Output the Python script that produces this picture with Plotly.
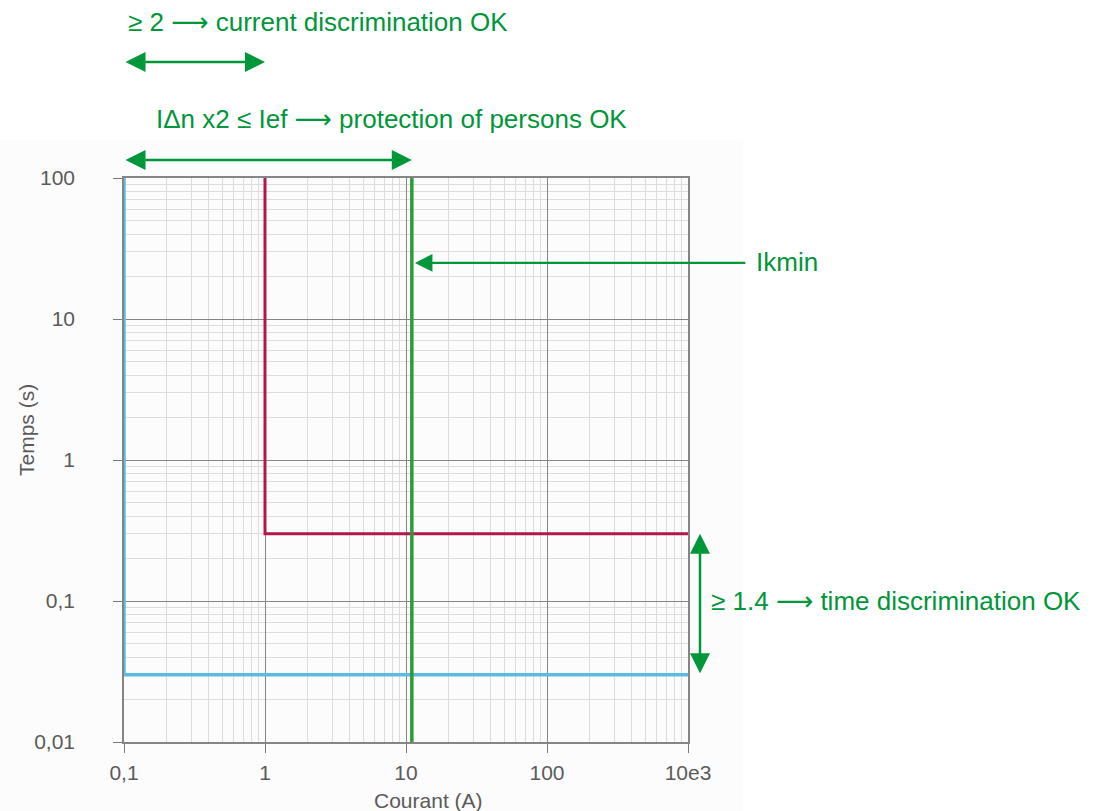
import math
import plotly.graph_objects as go

# Tripping curves (current in A, time in s)
upstream_x = [1, 1, 1000]          # upstream RCD, red
upstream_y = [100, 0.3, 0.3]
downstream_x = [0.1, 0.1, 1000]    # downstream RCD, blue
downstream_y = [100, 0.03, 0.03]
ikmin_x = [11, 11]                 # minimum fault current, green
ikmin_y = [0.01, 100]
ikmin_pointer_y = 25

x_tickvals = [0.1, 1, 10, 100, 1000]
x_ticktext = ["0,1", "1", "10", "100", "10e3"]
y_tickvals = [0.01, 0.1, 1, 10, 100]
y_ticktext = ["0,01", "0,1", "1", "10", "100"]

GREEN = "#00963a"
FAMILY = "Liberation Sans, Arial, sans-serif"
AXIS_FONT = dict(family=FAMILY, size=21, color="#5a5a5a")
NOTE_FONT = dict(family=FAMILY, size=26, color=GREEN)
ARROW = "<span style='font-family:DejaVu Sans'>⟶</span>"

fig = go.Figure()
fig.add_trace(go.Scatter(x=downstream_x, y=downstream_y, mode="lines", cliponaxis=False,
                         line=dict(color="#5bbbe4", width=3.5), showlegend=False))
fig.add_trace(go.Scatter(x=upstream_x, y=upstream_y, mode="lines", cliponaxis=False,
                         line=dict(color="#b3164c", width=3), showlegend=False))
fig.add_trace(go.Scatter(x=ikmin_x, y=ikmin_y, mode="lines", cliponaxis=False,
                         line=dict(color="#2f9a38", width=3.5), showlegend=False))

axis_common = dict(
    type="log", layer="below traces",
    showgrid=True, gridcolor="#858585", gridwidth=1,
    showline=True, mirror=True, linecolor="#858585", linewidth=1.5,
    ticks="outside", ticklen=9, tickcolor="#7a7a7a", tickwidth=1,
    tickfont=AXIS_FONT, zeroline=False,
    minor=dict(showgrid=True, gridcolor="#dcdcdc", gridwidth=1, dtick="D1", ticks=""),
)

fig.update_xaxes(range=[math.log10(0.1), math.log10(1000)],
                 tickvals=x_tickvals, ticktext=x_ticktext,
                 ticklabelstandoff=2, **axis_common)
fig.update_yaxes(range=[math.log10(0.01), math.log10(100)],
                 tickvals=y_tickvals, ticktext=y_ticktext,
                 ticklabelstandoff=34, **axis_common)

# Helpers for positions expressed in the plot's paper space
PL, PR, PT, PB = 124, 688, 178, 742
W, H = PR - PL, PB - PT


def px_x(px):
    return (px - PL) / W


def px_y(py):
    return (PB - py) / H


lx = math.log10
annotations = [
    # Axis titles
    dict(text="Courant (A)", xref="paper", yref="paper", x=px_x(428), y=px_y(800),
         xanchor="center", yanchor="middle", showarrow=False, font=AXIS_FONT),
    dict(text="Temps (s)", xref="paper", yref="paper", x=px_x(26), y=px_y(430),
         xanchor="center", yanchor="middle",
         textangle=-90, showarrow=False, font=AXIS_FONT),
    # Notes
    dict(text=f"≥ 2 {ARROW} current discrimination OK", xref="paper", yref="paper",
         x=px_x(126), y=px_y(22), xanchor="left", yanchor="middle",
         showarrow=False, font=NOTE_FONT),
    dict(text=f"IΔn x2 ≤ Ief {ARROW} protection of persons OK", xref="paper", yref="paper",
         x=px_x(154), y=px_y(119), xanchor="left", yanchor="middle",
         showarrow=False, font=NOTE_FONT),
    dict(text="Ikmin", xref="paper", yref="paper",
         x=px_x(754), y=px_y(262), xanchor="left", yanchor="middle",
         showarrow=False, font=NOTE_FONT),
    dict(text=f"≥ 1.4 {ARROW} time discrimination OK", xref="paper", yref="paper",
         x=px_x(709), y=px_y(601), xanchor="left", yanchor="middle",
         showarrow=False, font=NOTE_FONT),
    # Current ratio arrow between the two thresholds
    dict(xref="x", yref="paper", x=lx(upstream_x[0]), y=px_y(62),
         axref="x", ayref="pixel", ax=lx(downstream_x[0]), ay=0,
         text="", showarrow=True, arrowside="end+start",
         arrowhead=2, arrowsize=1.6, arrowwidth=2.5, arrowcolor=GREEN),
    # Downstream threshold to Ikmin
    dict(xref="x", yref="paper", x=lx(ikmin_x[0]), y=px_y(160),
         axref="x", ayref="pixel", ax=lx(downstream_x[0]), ay=0,
         text="", showarrow=True, arrowside="end+start",
         arrowhead=2, arrowsize=1.6, arrowwidth=2.5, arrowcolor=GREEN),
    # Pointer to Ikmin
    dict(xref="x", yref="y", x=lx(ikmin_x[0]), y=lx(ikmin_pointer_y),
         axref="pixel", ayref="pixel", ax=335, ay=0, standoff=3,
         text="", showarrow=True, arrowhead=2, arrowsize=1.6,
         arrowwidth=2.2, arrowcolor=GREEN),
    # Time ratio arrow between the two delays
    dict(xref="paper", yref="y", x=px_x(700), y=lx(upstream_y[-1]),
         axref="pixel", ayref="y", ax=0, ay=lx(downstream_y[-1]),
         text="", showarrow=True, arrowside="end+start",
         arrowhead=2, arrowsize=1.6, arrowwidth=2.5, arrowcolor=GREEN),
]

fig.update_layout(
    width=1096, height=811,
    margin=dict(l=PL, r=1096 - PR, t=PT, b=811 - PB),
    paper_bgcolor="white", plot_bgcolor="#fdfdfd",
    annotations=annotations,
    shapes=[dict(type="rect", xref="paper", yref="paper", layer="below",
                 x0=px_x(0), x1=px_x(743), y0=px_y(811), y1=px_y(140),
                 fillcolor="#fcfcfc", line=dict(width=0))],
)

fig.write_html("out.html")
